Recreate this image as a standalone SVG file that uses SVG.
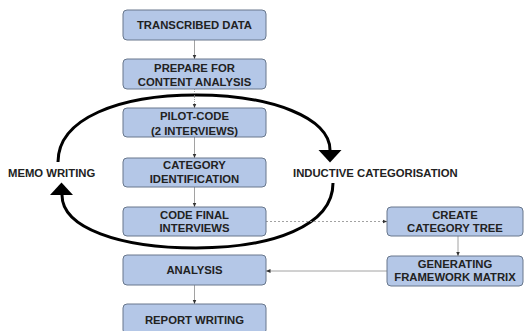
<svg xmlns="http://www.w3.org/2000/svg" width="526" height="331" viewBox="0 0 526 331">
<style>
.box{fill:#b4c7e7;stroke:#68778c;stroke-width:1}
.t{font-family:"Liberation Sans",Arial,sans-serif;font-weight:bold;font-size:11.3px;fill:#222;text-anchor:middle}
.lbl{font-family:"Liberation Sans",Arial,sans-serif;font-weight:bold;font-size:11.3px;fill:#222}
.c{fill:none;stroke:#8a8a8a;stroke-width:0.8}
.cyc{fill:none;stroke:#000;stroke-width:3}
</style>
<defs>
<marker id="ah" markerWidth="5" markerHeight="5" refX="4.5" refY="2.5" orient="auto" markerUnits="userSpaceOnUse">
<path d="M0,0.5 L4.5,2.5 L0,4.5 Z" fill="#333"/>
</marker>
<path id="bighead" d="M-11.5,0 L11.5,0 L0,12.5 Z" fill="#000"/>
</defs>
<rect x="0" y="0" width="526" height="331" fill="#fff"/>

<g id="cycle">
<path class="cyc" d="M58,162 C58,118 120,95 196,95 C272,95 330,118 330,150"/>
<use href="#bighead" x="330" y="150"/>
<path class="cyc" d="M333,183 C333,226 272,248 196,248 C120,248 62,228 62,195"/>
<use href="#bighead" transform="translate(61.5,195) rotate(180)"/>
</g>

<g id="connectors">
<line class="c" x1="194.5" y1="40" x2="194.5" y2="59" marker-end="url(#ah)"/>
<line class="c" x1="194.5" y1="89" x2="194.5" y2="108" stroke-dasharray="1,1" marker-end="url(#ah)"/>
<line class="c" x1="194.5" y1="137" x2="194.5" y2="158" marker-end="url(#ah)"/>
<line class="c" x1="194.5" y1="187" x2="194.5" y2="207" marker-end="url(#ah)"/>
<line class="c" x1="266" y1="221.5" x2="387" y2="221.5" stroke-dasharray="2,2" marker-end="url(#ah)"/>
<line class="c" x1="458" y1="236" x2="458" y2="256" marker-end="url(#ah)"/>
<line class="c" x1="387" y1="271" x2="266" y2="271" marker-end="url(#ah)"/>
<line class="c" x1="194.5" y1="285" x2="194.5" y2="304" marker-end="url(#ah)"/>
</g>

<g id="n1"><rect class="box" x="123" y="10" width="143" height="30" rx="4"/><text class="t" x="194.5" y="29">TRANSCRIBED DATA</text></g>
<g id="n2"><rect class="box" x="123" y="59" width="143" height="30" rx="4"/><text class="t" x="194.5" y="72.3">PREPARE FOR</text><text class="t" x="194.5" y="85.6">CONTENT ANALYSIS</text></g>
<g id="n3"><rect class="box" x="123" y="108" width="143" height="29" rx="4"/><text class="t" x="194.5" y="120.2">PILOT-CODE</text><text class="t" x="194.5" y="134.6">(2 INTERVIEWS)</text></g>
<g id="n4"><rect class="box" x="123" y="158" width="143" height="29" rx="4"/><text class="t" x="194.5" y="169.2">CATEGORY</text><text class="t" x="194.5" y="183.3">IDENTIFICATION</text></g>
<g id="n5"><rect class="box" x="123" y="207" width="143" height="29" rx="4"/><text class="t" x="194.5" y="219.2">CODE FINAL</text><text class="t" x="194.5" y="232.4">INTERVIEWS</text></g>
<g id="n6"><rect class="box" x="123" y="255" width="143" height="30" rx="4"/><text class="t" x="194.5" y="274.2">ANALYSIS</text></g>
<g id="n7"><rect class="box" x="123" y="304" width="143" height="30" rx="4"/><text class="t" x="194.5" y="324">REPORT WRITING</text></g>
<g id="n8"><rect class="box" x="387" y="207" width="136" height="29" rx="4"/><text class="t" x="455" y="219.2">CREATE</text><text class="t" x="455" y="232.4">CATEGORY TREE</text></g>
<g id="n9"><rect class="box" x="387" y="256" width="136" height="30" rx="4"/><text class="t" x="455" y="268.2">GENERATING</text><text class="t" x="455" y="281.4">FRAMEWORK MATRIX</text></g>

<g id="memo"><text class="lbl" x="8" y="177">MEMO WRITING</text></g>
<g id="inductive"><text class="lbl" x="293" y="177">INDUCTIVE CATEGORISATION</text></g>
</svg>
